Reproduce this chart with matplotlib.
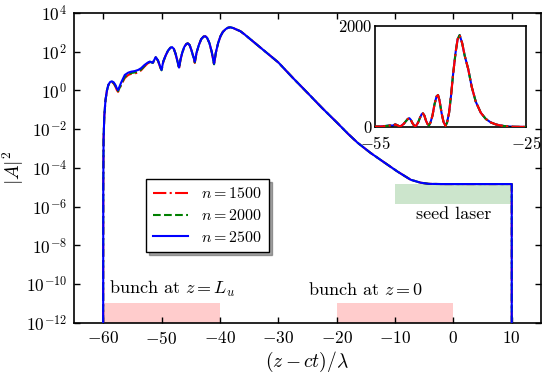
import numpy as np
import matplotlib
matplotlib.use("Agg")
import matplotlib.pyplot as plt
from matplotlib.ticker import FixedLocator, NullLocator, FuncFormatter

plt.rcParams['font.family'] = 'serif'
plt.rcParams['font.serif'] = ['cmr10', 'DejaVu Serif']
plt.rcParams['mathtext.fontset'] = 'cm'
plt.rcParams['axes.unicode_minus'] = False

# ---------------- data ----------------
z = [-60.00, -59.98, -59.93, -59.8, -59.6, -59.35, -59.1, -58.8, -58.5, -58.2,
     -57.9, -57.65, -57.45, -57.2, -56.9, -56.3, -55.7, -55.2, -54.6, -54.0,
     -53.5, -52.9, -52.4, -52.0, -51.5, -51.0, -50.6, -50.25, -50.0, -49.7,
     -49.3, -48.9, -48.5, -48.2, -47.9, -47.6, -47.3, -47.0, -46.75, -46.45,
     -46.1, -45.75, -45.5, -45.2, -44.9, -44.6, -44.3, -44.0, -43.6, -43.2,
     -42.8, -42.5, -42.2, -41.8, -41.4, -41.0, -40.7, -40.3, -39.9, -39.5,
     -39.0, -38.6, -38.2, -37.7, -37.2, -36.5, -35.8, -35.0, -34.0, -33.0,
     -32.0, -31.0, -30.0, -29.0, -27.5, -25.0, -22.5, -19.9, -18.0, -16.4,
     -14.2, -12.1, -9.6, -7.3, -5.6, -4.2, -2.0, 10.0, 10.0]

# log10 |A|^2 for each n
logA_2500 = [-12, -5, -2.5, -1.3, -0.5, 0.0, 0.3, 0.44, 0.47, 0.42,
             0.28, 0.1, 0.02, 0.2, 0.42, 0.8, 0.92, 0.97, 1.0, 1.06,
             1.15, 1.32, 1.43, 1.49, 1.43, 1.72, 1.55, 1.25, 1.06, 1.5,
             1.8, 2.05, 2.2, 2.24, 2.15, 1.9, 1.55, 1.18, 1.6, 1.95,
             2.25, 2.4, 2.43, 2.35, 2.1, 1.8, 1.48, 1.95, 2.35, 2.65,
             2.78, 2.8, 2.72, 2.45, 2.0, 1.38, 1.95, 2.45, 2.8, 3.02,
             3.17, 3.24, 3.26, 3.22, 3.15, 3.06, 2.9, 2.7, 2.45, 2.2,
             1.95, 1.7, 1.45, 1.13, 0.65, -0.12, -0.9, -1.67, -2.25, -2.70,
             -3.22, -3.66, -4.18, -4.61, -4.76, -4.82, -4.83, -4.83, -12]
logA_2000 = [-12, -5, -2.5, -1.3, -0.5, 0.0, 0.29, 0.42, 0.45, 0.39,
             0.24, 0.06, -0.03, 0.12, 0.34, 0.7, 0.84, 0.9, 0.93, 0.99,
             1.08, 1.27, 1.41, 1.48, 1.42, 1.71, 1.54, 1.23, 1.04, 1.49,
             1.8, 2.05, 2.2, 2.24, 2.15, 1.9, 1.54, 1.15, 1.59, 1.95,
             2.25, 2.4, 2.43, 2.35, 2.1, 1.79, 1.45, 1.94, 2.35, 2.65,
             2.78, 2.8, 2.72, 2.45, 1.99, 1.35, 1.94, 2.45, 2.8, 3.02,
             3.17, 3.24, 3.26, 3.22, 3.15, 3.06, 2.9, 2.7, 2.45, 2.2,
             1.95, 1.7, 1.45, 1.13, 0.65, -0.12, -0.9, -1.67, -2.25, -2.70,
             -3.22, -3.66, -4.18, -4.61, -4.76, -4.82, -4.83, -4.83, -12]
logA_1500 = [-12, -5, -2.5, -1.3, -0.5, 0.0, 0.28, 0.4, 0.42, 0.36,
             0.2, 0.02, -0.07, 0.08, 0.3, 0.64, 0.8, 0.86, 0.88, 0.93,
             1.04, 1.24, 1.39, 1.46, 1.41, 1.7, 1.53, 1.21, 1.02, 1.48,
             1.8, 2.05, 2.2, 2.24, 2.15, 1.9, 1.53, 1.12, 1.58, 1.95,
             2.25, 2.4, 2.43, 2.35, 2.1, 1.78, 1.42, 1.93, 2.35, 2.65,
             2.78, 2.8, 2.72, 2.45, 1.98, 1.32, 1.93, 2.45, 2.8, 3.02,
             3.17, 3.24, 3.26, 3.22, 3.15, 3.06, 2.9, 2.7, 2.45, 2.2,
             1.95, 1.7, 1.45, 1.13, 0.65, -0.12, -0.9, -1.67, -2.25, -2.70,
             -3.22, -3.66, -4.18, -4.61, -4.76, -4.82, -4.83, -4.83, -12]

labels = [r'$n=1500$', r'$n=2000$', r'$n=2500$']

bunch_Lu = (-60, -40)
bunch_0 = (-20, 0)
bunch_level = (1e-12, 1.1e-11)
seed = (-10, 10)
seed_level = (1.4e-6, 1.5e-5)

xticks = [-60, -50, -40, -30, -20, -10, 0, 10]
yexps = [-12, -10, -8, -6, -4, -2, 0, 2, 4]

# ---------------- figure ----------------
fig = plt.figure(figsize=(5.5, 3.79), dpi=100)
ax = fig.add_axes([0.1345, 0.1478, 0.849, 0.818])

zz = np.array(z)
A15 = 10 ** np.array(logA_1500, dtype=float)
A20 = 10 ** np.array(logA_2000, dtype=float)
A25 = 10 ** np.array(logA_2500, dtype=float)

ax.fill_between(bunch_Lu, *bunch_level, color='r', alpha=0.2, lw=0)
ax.fill_between(bunch_0, *bunch_level, color='r', alpha=0.2, lw=0)
ax.fill_between(seed, *seed_level, color='g', alpha=0.2, lw=0)

l1, = ax.plot(zz, A15, color='r', ls='-.', lw=1.5, label=labels[0], zorder=3)
l2, = ax.plot(zz, A20, color='g', ls='--', lw=1.5, label=labels[1], zorder=3)
l3, = ax.plot(zz, A25, color='b', ls='-', lw=1.5, label=labels[2], zorder=4)

ax.set_yscale('log')
ax.set_xlim(-65, 15)
ax.set_ylim(1e-12, 1e4)
ax.xaxis.set_major_locator(FixedLocator(xticks))
ax.yaxis.set_major_locator(FixedLocator([10.0 ** e for e in yexps]))
ax.yaxis.set_minor_locator(NullLocator())
ax.xaxis.set_minor_locator(NullLocator())
ax.xaxis.set_major_formatter(FuncFormatter(lambda v, p: r'$%d$' % round(v)))
ax.yaxis.set_major_formatter(FuncFormatter(lambda v, p: r'$10^{%d}$' % round(np.log10(v))))
ax.tick_params(direction='in', top=True, right=True, length=4, width=1,
               labelsize=12.5, pad=5)
for s in ax.spines.values():
    s.set_linewidth(1.2)

ax.set_xlabel(r'$(z-ct)/\lambda$', fontsize=14, labelpad=2)
ax.set_ylabel(r'$|A|^2$', fontsize=14, labelpad=0)

ax.text(-59.0, 10 ** -10.25, r'bunch at $z=L_u$', fontsize=13, va='center', ha='left')
ax.text(-24.9, 10 ** -10.25, r'bunch at $z=0$', fontsize=13, va='center', ha='left')
ax.text(-6.4, 10 ** -6.4, 'seed laser', fontsize=13, va='center', ha='left')

leg = ax.legend(handles=[l1, l2, l3], loc='lower left',
                bbox_to_anchor=(0.154, 0.229), borderaxespad=0,
                fontsize=11.5, frameon=True, fancybox=False, shadow=True,
                handlelength=2.2, labelspacing=0.42, borderpad=0.45)
leg.get_frame().set_edgecolor('black')
leg.get_frame().set_linewidth(1.0)

# ---------------- inset ----------------
ins = fig.add_axes([0.682, 0.665, 0.2745, 0.2665])
ins.plot(zz, A25, color='b', ls='-', lw=1.5, zorder=2)
ins.plot(zz, A20, color='g', ls='--', lw=1.5, zorder=3)
ins.plot(zz, A15, color='r', ls='-.', lw=1.5, zorder=4)
ins.set_xlim(-55, -25)
ins.set_ylim(0, 2000)
ins.set_xticks([-55, -25])
ins.set_yticks([0, 2000])
ins.xaxis.set_major_formatter(FuncFormatter(lambda v, p: r'$%d$' % round(v)))
ins.yaxis.set_major_formatter(FuncFormatter(lambda v, p: r'$%d$' % round(v)))
ins.tick_params(axis='y', direction='in', length=0, labelsize=12, pad=2)
ins.tick_params(axis='x', direction='in', length=0, labelsize=12, pad=6)
for s in ins.spines.values():
    s.set_linewidth(1.2)

fig.savefig('out.png', dpi=100)
